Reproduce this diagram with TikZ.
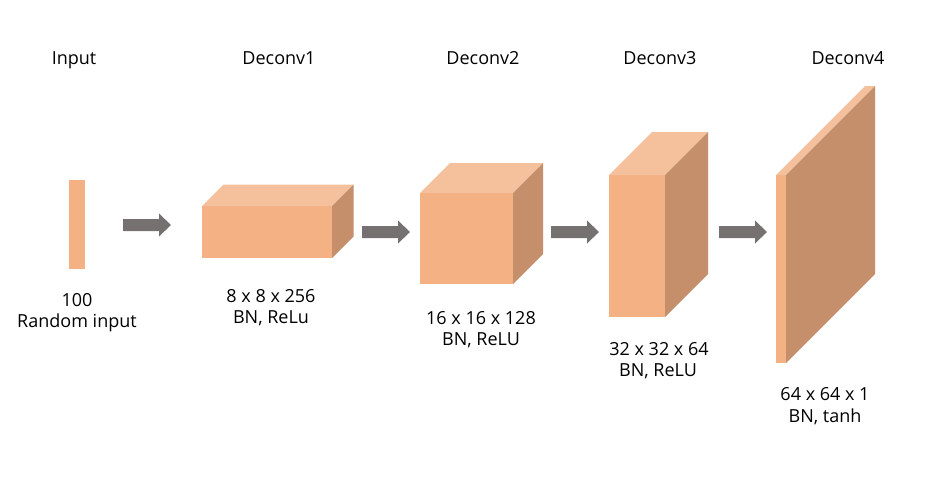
\documentclass[tikz,border=0pt]{standalone}
\usepackage{fontspec}
\setmainfont{Open Sans}
\usetikzlibrary{calc}
\definecolor{frontc}{HTML}{F3B184}
\definecolor{topc}{HTML}{F5C19D}
\definecolor{sidec}{HTML}{C48F6A}
\definecolor{arrowc}{HTML}{757171}
\tikzset{
  face/.style={fill=frontc, draw=none, inner sep=0pt, outer sep=0pt},
  lbl/.style={font=\fontsize{18}{21}\selectfont, anchor=base, inner sep=0pt},
}
\newcommand\cuboidfaces[2]{%
  \fill[topc] (#1.north west) -- ++(#2,-#2) -- ($(#1.north east)+(#2,-#2)$) -- (#1.north east) -- cycle;
  \fill[sidec] (#1.north east) -- ++(#2,-#2) -- ($(#1.south east)+(#2,-#2)$) -- (#1.south east) -- cycle;
}
\newcommand\blockarrow[1]{%
  \fill[arrowc] (#1) ++(0,-6) -- ++(36,0) -- ++(0,-5.5) -- ++(12,11.5) -- ++(-12,11.5) -- ++(0,-5.5) -- ++(-36,0) -- cycle;
}
\begin{document}
\begin{tikzpicture}[x=1pt,y=-1pt]
\useasboundingbox (0,0) rectangle (942,480);
\fill[white] (0,0) rectangle (942,480);
% titles
\node[lbl] (t0) at (74,64) {Input};
\node[lbl] (t1) at (279,64) {Deconv1};
\node[lbl] (t2) at (483,64) {Deconv2};
\node[lbl] (t3) at (660,64) {Deconv3};
\node[lbl] (t4) at (848,64) {Deconv4};
% input bar
\node[face, minimum width=16pt, minimum height=89pt, anchor=north west] (in) at (69,180) {};
% boxes
\node[face, minimum width=130pt, minimum height=52pt, anchor=north west] (d1) at (202,206) {};
\cuboidfaces{d1}{21.5}
\node[face, minimum width=93pt, minimum height=91pt, anchor=north west] (d2) at (420,193) {};
\cuboidfaces{d2}{30}
\node[face, minimum width=56pt, minimum height=142pt, anchor=north west] (d3) at (609,175) {};
\cuboidfaces{d3}{43}
\node[face, minimum width=10pt, minimum height=188pt, anchor=north west] (d4) at (776,175) {};
\cuboidfaces{d4}{89}
% arrows
\coordinate (a1) at (123,225);
\coordinate (a2) at (362,232);
\coordinate (a3) at (551,232);
\coordinate (a4) at (719,232);
\blockarrow{a1}
\blockarrow{a2}
\blockarrow{a3}
\blockarrow{a4}
% labels
\node[lbl] (l0a) at (77,306) {100};
\node[lbl] (l0b) at (77,327) {Random input};
\node[lbl] (l1a) at (271,302) {8 x 8 x 256};
\node[lbl] (l1b) at (271,323) {BN, ReLu};
\node[lbl] (l2a) at (481,324) {16 x 16 x 128};
\node[lbl] (l2b) at (481,345) {BN, ReLU};
\node[lbl] (l3a) at (659,355) {32 x 32 x 64};
\node[lbl] (l3b) at (658,376) {BN, ReLU};
\node[lbl] (l4a) at (825,400) {64 x 64 x 1};
\node[lbl] (l4b) at (825,422) {BN, tanh};
\end{tikzpicture}
\end{document}
